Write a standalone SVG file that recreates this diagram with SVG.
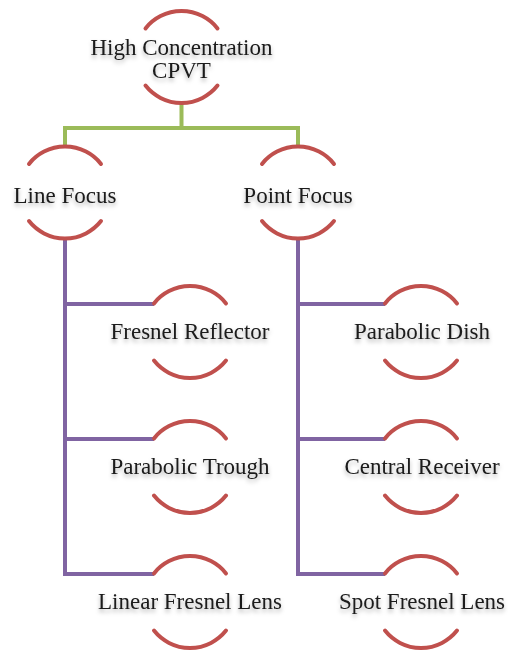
<svg xmlns="http://www.w3.org/2000/svg" width="508" height="655" viewBox="0 0 508 655">
  <style>
    .arc { fill: none; stroke: #C0504D; stroke-width: 4; stroke-linecap: round; }
    .lvl1 { fill: none; stroke: #9BBB59; stroke-width: 4; stroke-linejoin: miter; }
    .lvl2 { fill: none; stroke: #8064A2; stroke-width: 4; stroke-linejoin: miter; }
    .label { font-family: "Liberation Serif", "Times New Roman", serif; font-size: 23px; fill: #1a1a1a; text-anchor: middle; filter: url(#textShadow); }
  </style>
  <defs>
    <filter id="textShadow" x="-10%" y="-30%" width="120%" height="180%">
      <feDropShadow dx="0" dy="3" stdDeviation="2" flood-color="#000" flood-opacity="0.3"/>
    </filter>
    <!-- top and bottom arcs of a circle node, centred on the origin -->
    <g id="ring">
      <path class="arc" d="M -36 -28.6 A 46 46 0 0 1 36 -28.6"/>
      <path class="arc" d="M -36 28.6 A 46 46 0 0 0 36 28.6"/>
    </g>
  </defs>

  <rect width="508" height="655" fill="#ffffff"/>

  <g id="connectors">
    <!-- root to first level -->
    <path class="lvl1" d="M 181.5 103 V 128 M 65 128 H 298 M 65 126 V 147 M 298 126 V 147"/>
    <!-- Line Focus branch -->
    <path class="lvl2" d="M 65 238 V 574 H 154 M 65 304 H 154 M 65 439 H 154"/>
    <!-- Point Focus branch -->
    <path class="lvl2" d="M 298 238 V 574 H 385 M 298 304 H 385 M 298 439 H 385"/>
  </g>

  <g id="node-root">
    <use href="#ring" x="181.5" y="57"/>
    <text class="label" x="181.5" y="55">High Concentration</text>
    <text class="label" x="181.5" y="78">CPVT</text>
  </g>

  <g id="node-line-focus">
    <use href="#ring" x="65" y="192.5"/>
    <text class="label" x="65" y="203">Line Focus</text>
  </g>

  <g id="node-point-focus">
    <use href="#ring" x="298" y="192.5"/>
    <text class="label" x="298" y="203">Point Focus</text>
  </g>

  <g id="node-fresnel-reflector">
    <use href="#ring" x="190" y="332"/>
    <text class="label" x="190" y="339">Fresnel Reflector</text>
  </g>

  <g id="node-parabolic-trough">
    <use href="#ring" x="190" y="467"/>
    <text class="label" x="190" y="474">Parabolic Trough</text>
  </g>

  <g id="node-linear-fresnel-lens">
    <use href="#ring" x="190" y="602"/>
    <text class="label" x="190" y="609">Linear Fresnel Lens</text>
  </g>

  <g id="node-parabolic-dish">
    <use href="#ring" x="421" y="332"/>
    <text class="label" x="422" y="339">Parabolic Dish</text>
  </g>

  <g id="node-central-receiver">
    <use href="#ring" x="421" y="467"/>
    <text class="label" x="422" y="474">Central Receiver</text>
  </g>

  <g id="node-spot-fresnel-lens">
    <use href="#ring" x="421" y="602"/>
    <text class="label" x="422" y="609">Spot Fresnel Lens</text>
  </g>
</svg>
